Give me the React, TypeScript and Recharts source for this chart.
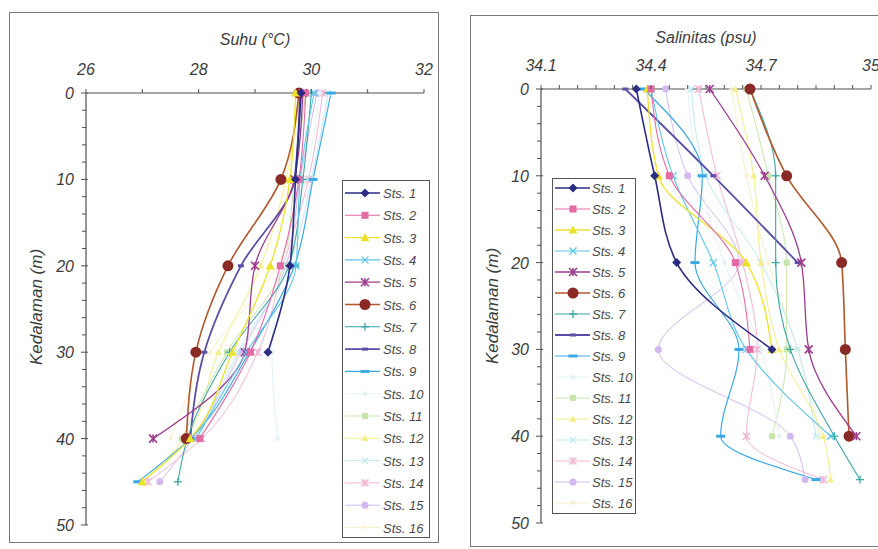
import React from "react";
import { LineChart, Line, XAxis, YAxis } from "recharts";

// ── Data ───────────────────────────────────────────────────────────

const DEPTHS = [0, 10, 20, 30, 40, 45];

const STATIONS = [
  "Sts. 1", "Sts. 2", "Sts. 3", "Sts. 4", "Sts. 5", "Sts. 6", "Sts. 7", "Sts. 8",
  "Sts. 9", "Sts. 10", "Sts. 11", "Sts. 12", "Sts. 13", "Sts. 14", "Sts. 15", "Sts. 16",
];

// Suhu (°C): one row per station, one value per depth in DEPTHS
const SUHU: (number | null)[][] = [
  [29.82, 29.72, 29.62, 29.23, null, null],
  [29.9, 29.78, 29.45, 28.92, 28.02, null],
  [29.72, 29.62, 29.27, 28.6, 27.85, 27.0],
  [30.05, 29.8, 29.73, 28.85, 27.95, null],
  [29.85, 29.7, 29.0, 28.82, 27.19, null],
  [29.78, 29.46, 28.52, 27.95, 27.78, null],
  [30.0, 29.85, 29.6, 28.55, 27.8, 27.63],
  [29.8, 29.7, 28.75, 28.1, 27.85, null],
  [30.35, 30.03, 29.7, 28.9, 27.85, 26.92],
  [30.15, 29.9, 29.5, 29.3, 29.4, null],
  [29.9, 29.7, 29.5, 28.5, 27.7, null],
  [29.8, 29.55, 29.1, 28.35, 27.75, 27.0],
  [30.3, 30.0, 29.6, 28.7, 28.0, null],
  [30.2, 29.95, 29.5, 29.05, 28.05, 27.1],
  [30.1, 29.8, 29.55, 28.75, 27.9, 27.31],
  [30.0, 29.8, 29.4, 28.2, 27.5, null],
];

// Salinitas (psu)
const SALINITAS: (number | null)[][] = [
  [34.36, 34.41, 34.47, 34.73, null, null],
  [34.4, 34.45, 34.63, 34.67, null, null],
  [34.39, 34.42, 34.66, 34.73, null, null],
  [34.4, 34.46, 34.57, 34.66, 34.89, null],
  [34.56, 34.71, 34.81, 34.83, 34.96, null],
  [34.67, 34.77, 34.92, 34.93, 34.94, null],
  [34.67, 34.74, 34.74, 34.78, 34.9, 34.97],
  [34.33, 34.57, 34.8, null, null, null],
  [34.38, 34.54, 34.52, 34.64, 34.59, 34.85],
  [34.5, 34.53, 34.6, 34.7, 34.75, null],
  [34.66, 34.72, 34.77, 34.77, 34.73, null],
  [34.63, 34.68, 34.7, 34.75, 34.87, 34.89],
  [34.51, 34.55, 34.7, 34.8, 34.85, null],
  [34.53, 34.58, 34.65, 34.69, 34.66, 34.87],
  [34.44, 34.5, 34.64, 34.42, 34.78, 34.82],
  [34.62, 34.66, 34.72, 34.8, 34.86, null],
];

const SUHU_TICKS = [26, 27, 28, 29, 30, 31, 32];
const SUHU_LABELS = [26, 28, 30, 32];
const SAL_TICKS = [
  34.1, 34.15, 34.2, 34.25, 34.3, 34.35, 34.4, 34.45, 34.5, 34.55,
  34.6, 34.65, 34.7, 34.75, 34.8, 34.85, 34.9, 34.95, 35,
];
const SAL_LABELS = [34.1, 34.4, 34.7, 35];
const DEPTH_TICKS = [
  0, 2, 4, 6, 8, 10, 12, 14, 16, 18, 20, 22, 24, 26, 28, 30, 32, 34, 36, 38,
  40, 42, 44, 46, 48, 50,
];
const DEPTH_LABELS = [0, 10, 20, 30, 40, 50];

// ── Styles ─────────────────────────────────────────────────────────

const W = 878;
const H = 549;
const FONT = '"Liberation Sans", Arial, Helvetica, sans-serif';
const TEXT = "#3c3c3c";
const AXIS = "#505050";

type Shape = "diamond" | "square" | "triangle" | "x" | "star" | "circle" | "plus" | "dash";

const SERIES_STYLE: { color: string; width: number; shape: Shape; size: number }[] = [
  { color: "#2b2c82", width: 1.6, shape: "diamond", size: 4.5 },
  { color: "#e46aa6", width: 1.1, shape: "square", size: 3.5 },
  { color: "#ece22c", width: 1.3, shape: "triangle", size: 4.5 },
  { color: "#5cc6ea", width: 1.1, shape: "x", size: 3.5 },
  { color: "#9c3c8e", width: 1.3, shape: "star", size: 4 },
  { color: "#b0582c", width: 1.6, shape: "circle", size: 5.5 },
  { color: "#3aa6a6", width: 1.1, shape: "plus", size: 4 },
  { color: "#5a4ea6", width: 1.8, shape: "dash", size: 3 },
  { color: "#3aa8e2", width: 1.2, shape: "dash", size: 4.5 },
  { color: "#e4f2f6", width: 1, shape: "diamond", size: 3 },
  { color: "#c6e6ae", width: 1, shape: "square", size: 3 },
  { color: "#f6ee86", width: 1, shape: "triangle", size: 3.5 },
  { color: "#bfe9f3", width: 1, shape: "x", size: 3 },
  { color: "#f2b6d6", width: 1, shape: "star", size: 3.5 },
  { color: "#d2baf0", width: 1, shape: "circle", size: 3.5 },
  { color: "#f6f0cc", width: 1, shape: "plus", size: 3 },
];

const MARKER_FILL: Record<number, string> = { 5: "#8a2a26" };

// ── Marker ─────────────────────────────────────────────────────────

function Marker({ cx, cy, shape, color, size }: {
  cx?: number; cy?: number; shape: Shape; color: string; size: number;
}) {
  if (cx == null || cy == null || Number.isNaN(cx) || Number.isNaN(cy)) return null;
  const s = size;
  switch (shape) {
    case "diamond":
      return <polygon points={`${cx},${cy - s} ${cx + s},${cy} ${cx},${cy + s} ${cx - s},${cy}`} fill={color} />;
    case "square":
      return <rect x={cx - s} y={cy - s} width={2 * s} height={2 * s} fill={color} />;
    case "triangle":
      return <polygon points={`${cx},${cy - s} ${cx + s},${cy + s * 0.8} ${cx - s},${cy + s * 0.8}`} fill={color} />;
    case "x":
      return (
        <g stroke={color} strokeWidth={1.3}>
          <line x1={cx - s} y1={cy - s} x2={cx + s} y2={cy + s} />
          <line x1={cx - s} y1={cy + s} x2={cx + s} y2={cy - s} />
        </g>
      );
    case "star":
      return (
        <g stroke={color} strokeWidth={1.6}>
          <line x1={cx - s} y1={cy - s} x2={cx + s} y2={cy + s} />
          <line x1={cx - s} y1={cy + s} x2={cx + s} y2={cy - s} />
          <line x1={cx} y1={cy - s} x2={cx} y2={cy + s} />
        </g>
      );
    case "circle":
      return <circle cx={cx} cy={cy} r={s} fill={color} />;
    case "plus":
      return (
        <g stroke={color} strokeWidth={1.3}>
          <line x1={cx - s} y1={cy} x2={cx + s} y2={cy} />
          <line x1={cx} y1={cy - s} x2={cx} y2={cy + s} />
        </g>
      );
    case "dash":
      return <line x1={cx - s} y1={cy} x2={cx + s} y2={cy} stroke={color} strokeWidth={3} />;
  }
  return null;
}

// ── Axis ticks ─────────────────────────────────────────────────────

const has = (list: number[], v: number) => list.some((l) => Math.abs(l - v) < 1e-6);

function XTick(props: any) {
  const { x, payload, axisY, labels } = props;
  const v = payload.value as number;
  return (
    <g>
      <line x1={x} y1={axisY} x2={x} y2={axisY - 4} stroke={AXIS} strokeWidth={1} />
      {has(labels, v) && (
        <text x={x} y={axisY - 18} textAnchor="middle" fontFamily={FONT} fontStyle="italic"
          fontSize={16} fill={TEXT}>
          {String(Math.round(v * 10) / 10)}
        </text>
      )}
    </g>
  );
}

function YTick(props: any) {
  const { y, payload, axisX } = props;
  const v = payload.value as number;
  const major = has(DEPTH_LABELS, v);
  return (
    <g>
      <line x1={axisX - (major ? 5 : 4)} y1={y} x2={axisX + (major ? 2 : 0)} y2={y} stroke={AXIS} strokeWidth={1} />
      {major && (
        <text x={axisX - 12} y={y + 6} textAnchor="end" fontFamily={FONT} fontStyle="italic"
          fontSize={16} fill={TEXT}>
          {v}
        </text>
      )}
    </g>
  );
}

// ── Panel ──────────────────────────────────────────────────────────

interface Plot { left: number; top: number; right: number; bottom: number }

function Panel({ values, domain, xTicks, xLabels, plot }: {
  values: (number | null)[][]; domain: [number, number]; xTicks: number[]; xLabels: number[]; plot: Plot;
}) {
  const data = DEPTHS.map((d, i) => {
    const row: Record<string, number | null> = { depth: d };
    STATIONS.forEach((s, j) => { row[s] = values[j][i]; });
    return row;
  });
  const order = STATIONS.map((_, i) => i).reverse();
  return (
    <div style={{ position: "absolute", left: 0, top: 0 }}>
      <LineChart
        layout="vertical"
        width={W}
        height={H}
        data={data}
        margin={{ top: plot.top - 20, left: plot.left - 40, right: W - plot.right, bottom: H - plot.bottom }}
      >
        <XAxis
          type="number"
          orientation="top"
          domain={domain}
          ticks={xTicks}
          interval={0}
          height={20}
          allowDataOverflow
          axisLine={{ stroke: AXIS, strokeWidth: 1.2 }}
          tickLine={false}
          tick={(p: any) => <XTick {...p} axisY={plot.top} labels={xLabels} />}
        />
        <YAxis
          type="number"
          dataKey="depth"
          domain={[0, 50]}
          ticks={DEPTH_TICKS}
          interval={0}
          width={40}
          axisLine={{ stroke: AXIS, strokeWidth: 1.2 }}
          tickLine={false}
          tick={(p: any) => <YTick {...p} axisX={plot.left} />}
        />
        {order.map((i) => {
          const st = SERIES_STYLE[i];
          return (
            <Line
              key={STATIONS[i]}
              dataKey={STATIONS[i]}
              type="monotone"
              stroke={st.color}
              strokeWidth={st.width}
              isAnimationActive={false}
              activeDot={false}
              dot={(p: any) => (
                <g key={`${STATIONS[i]}-${p.index}`}>
                  <Marker cx={p.cx} cy={p.cy} shape={st.shape} color={MARKER_FILL[i] ?? st.color} size={st.size} />
                </g>
              )}
            />
          );
        })}
      </LineChart>
    </div>
  );
}

// ── Legend ─────────────────────────────────────────────────────────

function LegendBox({ left, top, width, height, first, step, lineEnd, markX, textX }: {
  left: number; top: number; width: number; height: number; first: number; step: number;
  lineEnd: number; markX: number; textX: number;
}) {
  return (
    <div style={{ position: "absolute", left, top, width, height, border: "1.3px solid #555", background: "#fff", boxSizing: "border-box" }}>
      <svg width={width} height={height} style={{ position: "absolute", left: -1, top: -1 }}>
        {STATIONS.map((s, i) => {
          const st = SERIES_STYLE[i];
          const y = first + i * step;
          return (
            <g key={s}>
              <line x1={3} y1={y} x2={lineEnd} y2={y} stroke={st.color} strokeWidth={st.width} />
              <Marker cx={markX} cy={y} shape={st.shape} color={MARKER_FILL[i] ?? st.color} size={st.size} />
              <text x={textX} y={y + 5} fontFamily={FONT} fontStyle="italic" fontSize={13} fill="#4a4a4a">
                {s}
              </text>
            </g>
          );
        })}
      </svg>
    </div>
  );
}

// ── App ────────────────────────────────────────────────────────────

const LEFT_PLOT: Plot = { left: 86, top: 93, right: 424, bottom: 525 };
const RIGHT_PLOT: Plot = { left: 541, top: 89, right: 871, bottom: 523 };

export default function App() {
  return (
    <div style={{ position: "fixed", left: 0, top: 0, width: W, height: H, background: "#fff", overflow: "hidden" }}>
      {/* frames */}
      <div style={{ position: "absolute", left: 9, top: 12, width: 430, height: 531, border: "1.5px solid #777", boxSizing: "border-box" }} />
      <div style={{ position: "absolute", left: 470, top: 15, width: 420, height: 532, border: "1.5px solid #777", boxSizing: "border-box" }} />

      <Panel values={SUHU} domain={[26, 32]} xTicks={SUHU_TICKS} xLabels={SUHU_LABELS} plot={LEFT_PLOT} />
      <Panel values={SALINITAS} domain={[34.1, 35]} xTicks={SAL_TICKS} xLabels={SAL_LABELS} plot={RIGHT_PLOT} />

      {/* axis titles */}
      <svg width={W} height={H} style={{ position: "absolute", left: 0, top: 0, pointerEvents: "none" }}>
        <g fontFamily={FONT} fontStyle="italic" fontSize={16} fill={TEXT}>
          <text x={255} y={45} textAnchor="middle">Suhu (°C)</text>
          <text x={706} y={43} textAnchor="middle">Salinitas (psu)</text>
          <text x={42} y={307} textAnchor="middle" fontSize={17} transform="rotate(-90 42 307)">Kedalaman (m)</text>
          <text x={498} y={306} textAnchor="middle" fontSize={17} transform="rotate(-90 498 306)">Kedalaman (m)</text>
        </g>
      </svg>

      <LegendBox left={342} top={180} width={88} height={358} first={13} step={22.3} lineEnd={38} markX={23} textX={41} />
      <LegendBox left={552} top={178} width={84} height={336} first={10} step={21} lineEnd={38} markX={21} textX={40} />
    </div>
  );
}
